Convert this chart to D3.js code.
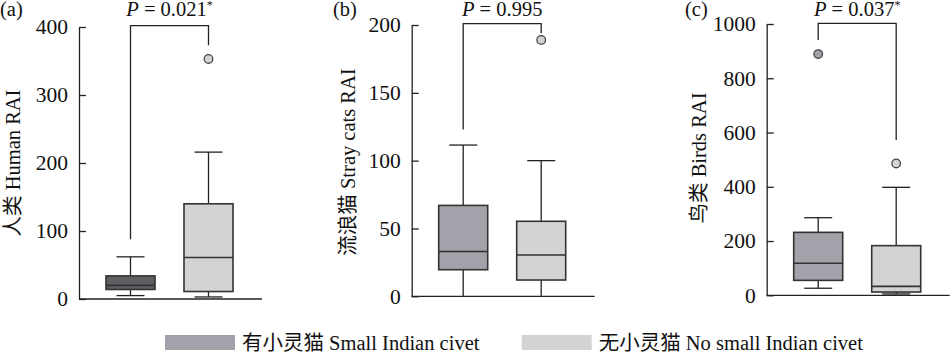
<!DOCTYPE html>
<html>
<head>
<meta charset="utf-8">
<script src="https://cdn.jsdelivr.net/npm/d3@7"></script>
<style>
  body { margin: 0; background: #fff; }
  svg, svg text { font-family: "Liberation Serif", "Times New Roman", "DejaVu Serif", "Noto Sans CJK SC", serif !important; }
</style>
</head>
<body>
<div id="chart"></div>
<script>
// groups (legend)
const groups = ["有小灵猫 Small Indian civet", "无小灵猫 No small Indian civet"];
const panelLabels = ["(a)", "(b)", "(c)"];
const yTitles = ["人类 Human RAI", "流浪猫 Stray cats RAI", "鸟类 Birds RAI"];
const yMax = [400, 200, 1000];
const yTicks = [
    [0, 100, 200, 300, 400],
    [0, 50, 100, 150, 200],
    [0, 200, 400, 600, 800, 1000]
];
const pValues = ["0.021", "0.995", "0.037"];
const pStars = [true, false, true];

// box stats per panel: [civet present, civet absent]
const humanStats = [
    { min: 5, q1: 14, median: 20, q3: 34, max: 62, outliers: [] },
    { min: 3, q1: 11, median: 61, q3: 140, max: 216, outliers: [353] }
];
const catStats = [
    { min: 0, q1: 19.6, median: 33, q3: 67, max: 111.5, outliers: [] },
    { min: 0, q1: 12, median: 30.4, q3: 55.3, max: 100, outliers: [189] }
];
const birdStats = [
    { min: 26, q1: 55, median: 118, q3: 232, max: 286, outliers: [889] },
    { min: 5, q1: 12, median: 33, q3: 183, max: 398, outliers: [486] }
];
// bracket: top value, left leg end, right leg end
const bracketTop = [402, 201, 1002];
const bracketLeft = [88, 123, 941];
const bracketRight = [373, 194, 572];

const stats = [humanStats, catStats, birdStats];

const width = 950, height = 353;
const axisX = [79, 411.7, 766.7];
const baseY = [299, 296.3, 295.3];
const topY = [27, 25, 24];
const axisLen = 183;
const boxW = 49, capW = 28;
const labelX = [0, 333, 685];
const titlePos = [[13, 163], [348, 162], [699, 158]];
const fs = 20.5;

const fills = [["#5f5e63", "#d3d3d5"], ["#a3a1aa", "#d3d3d5"], ["#a3a1aa", "#d3d3d5"]];
const legendFills = ["#a3a1aa", "#d3d3d5"];

const svg = d3.select("#chart").append("svg")
    .attr("width", width).attr("height", height);

stats.forEach((st, i) => {
    const g = svg.append("g");
    const y = d3.scaleLinear().domain([0, yMax[i]]).range([baseY[i], topY[i]]);
    const x = d3.scalePoint().domain(groups)
        .range([axisX[i] + 51.5, axisX[i] + 129.5]);

    // y axis, ticks pointing inward
    const ax = g.append("g")
        .attr("transform", `translate(${axisX[i]},0)`)
        .call(d3.axisLeft(y).tickValues(yTicks[i]).tickFormat(d3.format("d"))
            .tickSize(-7).tickSizeOuter(0).tickPadding(11));
    ax.attr("font-family", null);
    ax.selectAll("path, line").attr("stroke", "#222").attr("stroke-width", 1.3);
    ax.selectAll("text").attr("font-size", 21.5).attr("fill", "#111");

    // x baseline
    g.append("line")
        .attr("x1", axisX[i]).attr("x2", axisX[i] + axisLen)
        .attr("y1", y(0)).attr("y2", y(0))
        .attr("stroke", "#222").attr("stroke-width", 1.3);

    // panel label & y title
    g.append("text").attr("x", labelX[i]).attr("y", 16)
        .attr("font-size", fs).attr("fill", "#111").text(panelLabels[i]);
    g.append("text")
        .attr("transform", `translate(${titlePos[i][0]},${titlePos[i][1]}) rotate(-90)`)
        .attr("text-anchor", "middle").attr("dy", "0.35em")
        .attr("font-size", fs).attr("fill", "#111")
        .text(yTitles[i]);

    // significance bracket
    const xl = x(groups[0]), xr = x(groups[1]);
    g.append("path")
        .attr("d", `M${xl},${y(bracketLeft[i])}V${y(bracketTop[i])}H${xr}V${y(bracketRight[i])}`)
        .attr("fill", "none").attr("stroke", "#222").attr("stroke-width", 1.3);

    const pt = g.append("text").attr("x", (xl + xr) / 2).attr("y", 16)
        .attr("text-anchor", "middle").attr("font-size", fs).attr("fill", "#111");
    pt.append("tspan").attr("font-style", "italic").text("P");
    pt.append("tspan").text(" = " + pValues[i]);
    if (pStars[i]) pt.append("tspan").attr("font-size", 12).attr("dy", -7).text("*");

    // boxes
    st.forEach((d, j) => {
        const cx = x(groups[j]);
        const b = g.append("g");
        b.append("line").attr("x1", cx).attr("x2", cx)
            .attr("y1", y(d.min)).attr("y2", y(d.max))
            .attr("stroke", "#222").attr("stroke-width", 1.3);
        [d.min, d.max].forEach(v => {
            if (v > 0) b.append("line")
                .attr("x1", cx - capW / 2).attr("x2", cx + capW / 2)
                .attr("y1", y(v)).attr("y2", y(v))
                .attr("stroke", "#222").attr("stroke-width", 1.3);
        });
        b.append("rect")
            .attr("x", cx - boxW / 2).attr("width", boxW)
            .attr("y", y(d.q3)).attr("height", y(d.q1) - y(d.q3))
            .attr("fill", fills[i][j]).attr("stroke", "#333").attr("stroke-width", 1.6);
        b.append("line")
            .attr("x1", cx - boxW / 2).attr("x2", cx + boxW / 2)
            .attr("y1", y(d.median)).attr("y2", y(d.median))
            .attr("stroke", "#333").attr("stroke-width", 1.6);
        b.selectAll("circle").data(d.outliers).join("circle")
            .attr("cx", cx).attr("cy", v => y(v)).attr("r", 4.3)
            .attr("fill", fills[i][j]).attr("stroke", "#444").attr("stroke-width", 1.3);
    });
});

// legend
const legendX = [165, 521.7];
groups.forEach((name, k) => {
    svg.append("rect").attr("x", legendX[k]).attr("y", 335)
        .attr("width", 70).attr("height", 15).attr("fill", legendFills[k]);
    svg.append("text").attr("x", legendX[k] + 77).attr("y", 350)
        .attr("font-size", fs).attr("fill", "#111").text(name);
});
</script>
</body>
</html>
